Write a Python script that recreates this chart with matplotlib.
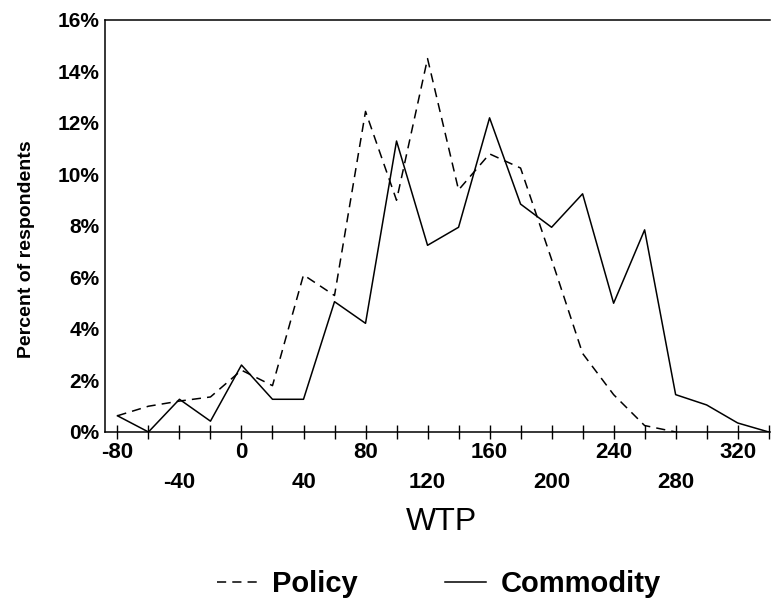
import numpy as np
import matplotlib.pyplot as plt

# =====================================================
# Data
# =====================================================
wtp = [-80, -60, -40, -20, 0, 20, 40, 60, 80, 100, 120,
       140, 160, 180, 200, 220, 240, 260, 280, 300, 320, 340]

policy = [0.63, 1.0, 1.2, 1.36, 2.4, 1.8, 6.1, 5.3, 12.45, 9.0, 14.5,
          9.4, 10.8, 10.25, 6.7, 3.05, 1.45, 0.25, 0.0, np.nan, np.nan, np.nan]

commodity = [0.63, 0.0, 1.27, 0.42, 2.6, 1.27, 1.27, 5.06, 4.22, 11.3, 7.25,
             7.95, 12.2, 8.85, 7.95, 9.25, 5.0, 7.85, 1.45, 1.05, 0.35, 0.0]

xtick_vals = list(range(-80, 341, 20))
ytick_vals = list(range(0, 17, 2))

# =====================================================
# Plot
# =====================================================
plt.rcParams["font.family"] = ["Liberation Sans", "DejaVu Sans"]

fig = plt.figure(figsize=(7.78, 6.04), dpi=100)
ax = fig.add_axes([0.135, 0.2848, 0.855, 0.6821])

ax.plot(wtp, policy, color="black", lw=1.1, linestyle=(0, (6, 4)), label="Policy")
ax.plot(wtp, commodity, color="black", lw=1.1, label="Commodity")

ax.set_xlim(-88, 341)
ax.set_ylim(0, 16)

# x ticks every 20, labels every 40 staggered in two rows
labels = []
for v in xtick_vals:
    if v % 80 == 0:
        labels.append(str(v))
    elif v % 40 == 0:
        labels.append("\n" + str(v))
    else:
        labels.append("")
ax.set_xticks(xtick_vals)
ax.set_xticklabels(labels, fontsize=16, fontweight="bold", linespacing=1.57)
ax.tick_params(axis="x", direction="inout", length=10, width=1, pad=2)

ax.set_yticks(ytick_vals)
ax.set_yticklabels([f"{v}%" for v in ytick_vals], fontsize=15, fontweight="bold")
ax.tick_params(axis="y", length=0, pad=4)

ax.spines["right"].set_visible(False)
for s in ["left", "bottom", "top"]:
    ax.spines[s].set_linewidth(1.1)

ax.set_ylabel("Percent of respondents", fontsize=14, fontweight="bold")
ax.yaxis.set_label_coords(-0.105, 0.444)
ax.set_xlabel("WTP", fontsize=23)
ax.xaxis.set_label_coords(0.506, -0.182)

fig.legend(loc="center", bbox_to_anchor=(0.564, 0.033), ncol=2, frameon=False,
           handlelength=1.4, columnspacing=3.0, handletextpad=0.5,
           prop={"size": 21, "weight": "bold"})

fig.savefig("out.png", dpi=100)
plt.close(fig)
